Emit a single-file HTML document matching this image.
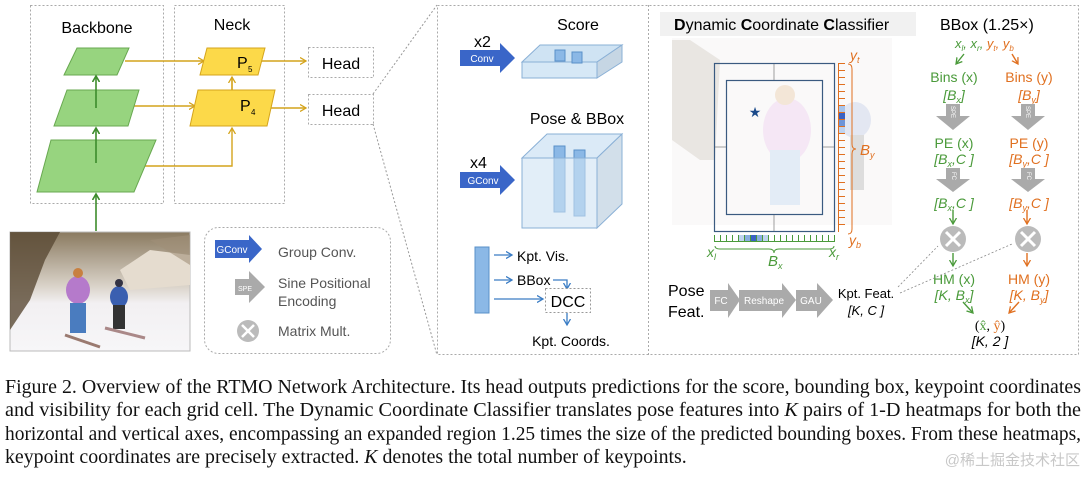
<!DOCTYPE html>
<html><head><meta charset="utf-8"><style>
html,body{margin:0;padding:0;background:#fff;width:1086px;height:479px;overflow:hidden}
svg{display:block}
.s{font-family:"Liberation Sans",sans-serif}
.cap{position:absolute;left:5px;top:376px;width:1076px;font-family:"Liberation Serif",serif;font-size:20px;line-height:23.3px;color:#111}
.cap div{white-space:nowrap;height:23.3px}
.cap span.t{display:inline-block;transform-origin:0 0}
.wm{position:absolute;right:6px;top:449px;font-family:"Liberation Sans","Noto Sans CJK SC",sans-serif;font-size:15px;color:#c8c8c8}
</style></head><body>
<svg id="g" width="1086" height="479" viewBox="0 0 1086 479" xmlns="http://www.w3.org/2000/svg" class="s">
<defs>
<marker id="ag" markerWidth="8" markerHeight="8" refX="6" refY="4" orient="auto" markerUnits="userSpaceOnUse"><path d="M0,0.5 L6,4 L0,7.5" fill="none" stroke="#4a9a3a" stroke-width="1.3"/></marker>
<marker id="ay" markerWidth="8" markerHeight="8" refX="6" refY="4" orient="auto" markerUnits="userSpaceOnUse"><path d="M0,0.5 L6,4 L0,7.5" fill="none" stroke="#d4a41c" stroke-width="1.3"/></marker>
<marker id="ab" markerWidth="8" markerHeight="8" refX="6" refY="4" orient="auto" markerUnits="userSpaceOnUse"><path d="M0,0.5 L6,4 L0,7.5" fill="none" stroke="#3a7cc4" stroke-width="1.3"/></marker>
<marker id="ao" markerWidth="8" markerHeight="8" refX="6" refY="4" orient="auto" markerUnits="userSpaceOnUse"><path d="M0,0.5 L6,4 L0,7.5" fill="none" stroke="#e07020" stroke-width="1.3"/></marker>
<marker id="agr" markerWidth="8" markerHeight="8" refX="6" refY="4" orient="auto" markerUnits="userSpaceOnUse"><path d="M0,0.5 L6,4 L0,7.5" fill="none" stroke="#3d8c2c" stroke-width="1.6"/></marker>
<linearGradient id="img" x1="0" y1="0" x2="0" y2="1"><stop offset="0" stop-color="#8a7a60"/><stop offset="0.45" stop-color="#d9d2c8"/><stop offset="0.6" stop-color="#f2f0f2"/><stop offset="1" stop-color="#f7f6f8"/></linearGradient>
</defs>
<rect x="30.5" y="5.5" width="133" height="198" fill="none" stroke="#aaa" stroke-dasharray="2,2"/>
<rect x="174.5" y="5.5" width="110" height="198" fill="none" stroke="#aaa" stroke-dasharray="2,2"/>
<text x="97" y="33" font-size="16" text-anchor="middle">Backbone</text>
<text x="232" y="30" font-size="16" text-anchor="middle">Neck</text>
<rect x="308.5" y="47.5" width="65" height="30" fill="none" stroke="#aaa" stroke-dasharray="2,2"/>
<rect x="308.5" y="94.5" width="65" height="30" fill="none" stroke="#aaa" stroke-dasharray="2,2"/>
<text x="341" y="69" font-size="16" text-anchor="middle">Head</text>
<text x="341" y="116" font-size="16" text-anchor="middle">Head</text>
<g stroke="#d4a41c" stroke-width="1.4" fill="none">
<line x1="125" y1="61" x2="204" y2="61" marker-end="url(#ay)"/>
<line x1="133" y1="106" x2="195" y2="106" marker-end="url(#ay)"/>
<polyline points="145,166 232,166 232,128" marker-end="url(#ay)"/>
<line x1="258" y1="61" x2="306" y2="61" marker-end="url(#ay)"/>
<line x1="266" y1="108" x2="306" y2="108" marker-end="url(#ay)"/>
<line x1="232" y1="78" x2="232" y2="104" marker-end="url(#ay)"/>
<line x1="232" y1="100" x2="232" y2="77" marker-end="url(#ay)"/>
</g>
<g fill="#97d47f" stroke="#68a850" stroke-width="1">
<polygon points="77,48 129,48 117,75 64,75"/>
<polygon points="67,90 139,90 128,126 54,126"/>
<polygon points="51,140 156,140 134,192 37,192"/>
</g>
<g fill="#fcd949" stroke="#d4a41c" stroke-width="1">
<polygon points="207,48 265,48 258,75 200,75"/>
<polygon points="198,90 275,90 267,126 190,126"/>
</g>
<text x="237" y="68" font-size="16">P</text><text x="248" y="72" font-size="8">5</text>
<text x="240" y="111" font-size="16">P</text><text x="251" y="115" font-size="8">4</text>
<g stroke="#3d8c2c" stroke-width="1.6" fill="none">
<line x1="96" y1="231" x2="96" y2="194" marker-end="url(#agr)"/>
<line x1="96" y1="163" x2="96" y2="128" marker-end="url(#agr)"/>
<line x1="96" y1="108" x2="96" y2="76" marker-end="url(#agr)"/>
</g>
<rect x="10" y="232" width="180" height="119" fill="url(#img)" stroke="#bbb"/>
<path d="M10,232 L10,330 L30,300 L45,260 L60,232 Z" fill="#5a4a34" opacity="0.8"/>
<path d="M120,270 L150,250 L190,255 L190,285 L130,290 Z" fill="#e5dccf"/>
<path d="M150,240 L190,235 L190,265 Z" fill="#a09078" opacity="0.6"/>
<ellipse cx="78" cy="290" rx="12" ry="14" fill="#b57acb"/>
<rect x="70" y="303" width="16" height="30" fill="#4a7cbf"/>
<circle cx="78" cy="273" r="5" fill="#c88040"/>
<line x1="65" y1="335" x2="100" y2="347" stroke="#9a7a70" stroke-width="3"/>
<ellipse cx="119" cy="297" rx="9" ry="11" fill="#3a5fb0"/>
<rect x="113" y="305" width="12" height="24" fill="#333"/>
<circle cx="119" cy="283" r="4" fill="#334"/>
<line x1="105" y1="328" x2="145" y2="338" stroke="#aa8888" stroke-width="3"/>
<rect x="204.5" y="227.5" width="186" height="126" rx="14" fill="none" stroke="#aaa" stroke-dasharray="2,2"/>
<polygon points="215,240 249,240 249,235 262,249 249,263 249,258 215,258" fill="#3a66c8"/>
<text x="232" y="253" font-size="10" fill="#fff" text-anchor="middle">GConv</text>
<text x="278" y="257" font-size="14" fill="#555">Group Conv.</text>
<polygon points="235,279 249,279 249,271 265,287 249,303 249,295 235,295" fill="#aaa"/>
<text x="245" y="291" font-size="7" fill="#fff" text-anchor="middle">SPE</text>
<text x="278" y="288" font-size="14" fill="#555">Sine Positional</text>
<text x="278" y="306" font-size="14" fill="#555">Encoding</text>
<circle cx="248" cy="331" r="11" fill="#bbb"/>
<path d="M242,325 L254,337 M254,325 L242,337" stroke="#fff" stroke-width="2.5"/>
<text x="278" y="336" font-size="14" fill="#555">Matrix Mult.</text>
<line x1="373" y1="94" x2="437" y2="5" stroke="#999" stroke-dasharray="2,2"/>
<line x1="373" y1="124" x2="437" y2="355" stroke="#999" stroke-dasharray="2,2"/>
<rect x="437.5" y="5.5" width="641" height="349" fill="none" stroke="#aaa" stroke-dasharray="2,2"/>
<line x1="648.5" y1="5" x2="648.5" y2="355" stroke="#aaa" stroke-dasharray="2,2"/>
<text x="578" y="30" font-size="16" text-anchor="middle">Score</text>
<text x="474" y="47" font-size="16">x2</text>
<polygon points="460,50 500,50 500,43 515,58 500,73 500,66 460,66" fill="#3a66c8"/>
<text x="482" y="62" font-size="10" fill="#fff" text-anchor="middle">Conv</text>
<polygon points="522,62 540,45 622,45 597,62" fill="#cfe3f3" stroke="#8ab0d6"/>
<rect x="522" y="62" width="75" height="16" fill="#d6e8f6" stroke="#8ab0d6"/>
<polygon points="597,62 622,45 622,62 597,78" fill="#c6d6e4" stroke="#8ab0d6"/>
<rect x="555" y="50" width="10" height="11" fill="#8bb8e6" stroke="#5a90c8"/>
<rect x="572" y="52" width="10" height="11" fill="#8bb8e6" stroke="#5a90c8"/>
<text x="577" y="124" font-size="16" text-anchor="middle">Pose &amp; BBox</text>
<text x="470" y="168" font-size="16">x4</text>
<polygon points="460,172 500,172 500,165 515,180 500,195 500,188 460,188" fill="#3a66c8"/>
<text x="483" y="184" font-size="10" fill="#fff" text-anchor="middle">GConv</text>
<polygon points="522,158 547,134 622,134 597,158" fill="#dbeaf7" stroke="#8ab0d6"/>
<polygon points="597,158 622,134 622,204 597,228" fill="#d2dfea" stroke="#8ab0d6"/>
<rect x="554" y="146" width="11" height="66" fill="#8bb8e6" stroke="#5a90c8"/>
<rect x="574" y="150" width="11" height="66" fill="#8bb8e6" stroke="#5a90c8"/>
<rect x="522" y="158" width="75" height="70" fill="#cfe3f3" fill-opacity="0.6" stroke="#8ab0d6"/>
<rect x="475" y="247" width="14" height="66" fill="#8bb8e6" stroke="#5a90c8"/>
<g stroke="#3a7cc4" stroke-width="1.3" fill="none">
<line x1="494" y1="255" x2="512" y2="255" marker-end="url(#ab)"/>
<line x1="494" y1="280" x2="512" y2="280" marker-end="url(#ab)"/>
<polyline points="553,280 567,280 567,289" marker-end="url(#ab)"/>
<line x1="494" y1="299" x2="543" y2="299" marker-end="url(#ab)"/>
<line x1="567" y1="313" x2="567" y2="325" marker-end="url(#ab)"/>
</g>
<text x="517" y="261" font-size="14">Kpt. Vis.</text>
<text x="517" y="285" font-size="14">BBox</text>
<rect x="545.5" y="288.5" width="45" height="24" fill="#fff" stroke="#999" stroke-dasharray="2,2"/>
<text x="568" y="307" font-size="16" text-anchor="middle">DCC</text>
<text x="571" y="346" font-size="14" text-anchor="middle">Kpt. Coords.</text>
<rect x="660" y="12" width="256" height="24" fill="#f1f1f1"/>
<text x="674" y="30" font-size="16"><tspan font-weight="bold">D</tspan>ynamic <tspan font-weight="bold">C</tspan>oordinate <tspan font-weight="bold">C</tspan>lassifier</text>
<text x="940" y="30" font-size="16">BBox (1.25×)</text>
<g opacity="0.45">
<rect x="672" y="38" width="220" height="187" fill="#f4f2f2"/>
<path d="M672,40 L690,40 L720,60 L715,160 L700,160 L672,140 Z" fill="#b8ab9c" opacity="0.6"/>
<ellipse cx="787" cy="130" rx="24" ry="32" fill="#e9cce9"/>
<rect x="770" y="150" width="30" height="55" fill="#c3d6ec"/>
<circle cx="785" cy="95" r="10" fill="#e6c8a8"/>
<ellipse cx="855" cy="120" rx="16" ry="18" fill="#c2cbe4"/>
<rect x="850" y="135" width="14" height="55" fill="#b4b4b4"/>
</g>
<rect x="714.5" y="63.5" width="120" height="168" fill="none" stroke="#3a5a80" stroke-width="1.2"/>
<rect x="726.5" y="80.5" width="96" height="134" fill="none" stroke="#3a5a80" stroke-width="1.2"/>
<g stroke="#777" stroke-width="0.7"><line x1="774" y1="64" x2="774" y2="80"/><line x1="774" y1="215" x2="774" y2="231"/><line x1="715" y1="147" x2="726" y2="147"/><line x1="823" y1="147" x2="834" y2="147"/></g>
<text x="755" y="117" font-size="14" fill="#1a4a8a" text-anchor="middle">★</text>
<g id="vr"></g><g id="hr"></g>
<path d="M848,64 q4,0 4,5 l0,75 q0,5 4,5 q-4,0 -4,5 l0,75 q0,5 -4,5" fill="none" stroke="#e07020" stroke-width="1"/>
<path d="M715,246 q0,3 5,3 l49,0 q5,0 5,4 q0,-4 5,-4 l50,0 q5,0 5,-3" fill="none" stroke="#4a9a3a" stroke-width="1"/>
<g font-style="italic" font-size="14">
<text x="850" y="60" fill="#e07020">y<tspan font-size="9" dy="3">t</tspan></text>
<text x="849" y="245" fill="#e07020">y<tspan font-size="9" dy="3">b</tspan></text>
<text x="860" y="155" fill="#e07020" font-size="15">B<tspan font-size="9" dy="3">y</tspan></text>
<text x="707" y="257" fill="#4a9a3a">x<tspan font-size="9" dy="3">l</tspan></text>
<text x="829" y="257" fill="#4a9a3a">x<tspan font-size="9" dy="3">r</tspan></text>
<text x="768" y="266" fill="#4a9a3a" font-size="15">B<tspan font-size="9" dy="3">x</tspan></text>
</g>
<text x="955" y="48" font-size="13" font-style="italic" fill="#4a9a3a">x<tspan font-size="8" dy="3">l</tspan><tspan dy="-3">, x</tspan><tspan font-size="8" dy="3">r</tspan><tspan dy="-3">, </tspan><tspan fill="#e07020">y</tspan><tspan font-size="8" dy="3" fill="#e07020">t</tspan><tspan dy="-3" fill="#e07020">, y</tspan><tspan font-size="8" dy="3" fill="#e07020">b</tspan></text>
<g stroke-width="1.4" fill="none">
<line x1="964" y1="54" x2="956" y2="64" stroke="#4a9a3a" marker-end="url(#ag)"/>
<line x1="1012" y1="54" x2="1018" y2="64" stroke="#e07020" marker-end="url(#ao)"/>
<line x1="953" y1="210" x2="953" y2="224" stroke="#4a9a3a" marker-end="url(#ag)"/>
<line x1="1027" y1="210" x2="1027" y2="224" stroke="#e07020" marker-end="url(#ao)"/>
<line x1="953" y1="253" x2="953" y2="266" stroke="#4a9a3a" marker-end="url(#ag)"/>
<line x1="1027" y1="253" x2="1027" y2="266" stroke="#e07020" marker-end="url(#ao)"/>
<line x1="963" y1="302" x2="973" y2="313" stroke="#4a9a3a" marker-end="url(#ag)"/>
<line x1="1019" y1="302" x2="1009" y2="313" stroke="#e07020" marker-end="url(#ao)"/>
</g>
<g font-size="14" text-anchor="middle">
<g fill="#4a9a3a">
<text x="954" y="82">Bins (x)</text><text x="954" y="100" font-style="italic">[B<tspan font-size="9" dy="3">x</tspan><tspan dy="-3">]</tspan></text>
<text x="954" y="148">PE (x)</text><text x="954" y="164" font-style="italic">[B<tspan font-size="9" dy="3">x</tspan><tspan dy="-3">,C ]</tspan></text>
<text x="954" y="208" font-style="italic">[B<tspan font-size="9" dy="3">x</tspan><tspan dy="-3">,C ]</tspan></text>
<text x="954" y="284">HM (x)</text><text x="954" y="300" font-style="italic">[K, B<tspan font-size="9" dy="3">x</tspan><tspan dy="-3">]</tspan></text>
</g>
<g fill="#e07020">
<text x="1029" y="82">Bins (y)</text><text x="1029" y="100" font-style="italic">[B<tspan font-size="9" dy="3">y</tspan><tspan dy="-3">]</tspan></text>
<text x="1029" y="148">PE (y)</text><text x="1029" y="164" font-style="italic">[B<tspan font-size="9" dy="3">y</tspan><tspan dy="-3">,C ]</tspan></text>
<text x="1029" y="208" font-style="italic">[B<tspan font-size="9" dy="3">y</tspan><tspan dy="-3">,C ]</tspan></text>
<text x="1029" y="284">HM (y)</text><text x="1029" y="300" font-style="italic">[K, B<tspan font-size="9" dy="3">y</tspan><tspan dy="-3">]</tspan></text>
</g>
<text x="990" y="330" font-family="Liberation Serif,serif">(<tspan fill="#4a9a3a">x̂</tspan>, <tspan fill="#e07020">ŷ</tspan>)</text>
<text x="990" y="346" font-style="italic">[K, 2 ]</text>
</g>
<g fill="#aaa">
<polygon points="946,104 960,104 960,116 970,116 953,130 936,116 946,116"/>
<polygon points="1021,104 1035,104 1035,116 1045,116 1028,130 1011,116 1021,116"/>
<polygon points="946,168 960,168 960,179 970,179 953,192 936,179 946,179"/>
<polygon points="1021,168 1035,168 1035,179 1045,179 1028,192 1011,179 1021,179"/>
</g>
<g font-size="6" fill="#fff" text-anchor="middle">
<text x="953" y="114" transform="rotate(90 953 112)">SPE</text>
<text x="1028" y="114" transform="rotate(90 1028 112)">SPE</text>
<text x="953" y="177" transform="rotate(90 953 176)">FC</text>
<text x="1028" y="177" transform="rotate(90 1028 176)">FC</text>
</g>
<g>
<circle cx="953" cy="239" r="13" fill="#bbb"/><path d="M946,232 L960,246 M960,232 L946,246" stroke="#fff" stroke-width="3"/>
<circle cx="1028" cy="239" r="13" fill="#bbb"/><path d="M1021,232 L1035,246 M1035,232 L1021,246" stroke="#fff" stroke-width="3"/>
</g>
<text x="668" y="296" font-size="16">Pose</text>
<text x="668" y="317" font-size="16">Feat.</text>
<g fill="#aaa">
<polygon points="710,290 728,290 728,283 740,300 728,318 728,311 710,311"/>
<polygon points="739,290 782,290 782,283 796,300 782,318 782,311 739,311"/>
<polygon points="796,290 817,290 817,283 833,300 817,318 817,311 796,311"/>
</g>
<g font-size="10" fill="#fff" text-anchor="middle"><text x="721" y="304">FC</text><text x="764" y="304">Reshape</text><text x="811" y="304">GAU</text></g>
<text x="866" y="298" font-size="13" text-anchor="middle">Kpt. Feat.</text>
<text x="866" y="315" font-size="13" text-anchor="middle" font-style="italic">[K, C ]</text>
<g stroke="#888" stroke-width="0.8" stroke-dasharray="2,2" fill="none">
<line x1="898" y1="287" x2="938" y2="246"/>
<line x1="900" y1="293" x2="1012" y2="244"/>
</g>
</svg>
<div class="cap">
<div><span class="t">Figure 2. Overview of the RTMO Network Architecture. Its head outputs predictions for the score, bounding box, keypoint coordinates</span></div>
<div><span class="t">and visibility for each grid cell. The Dynamic Coordinate Classifier translates pose features into <i>K</i> pairs of 1-D heatmaps for both the</span></div>
<div><span class="t">horizontal and vertical axes, encompassing an expanded region 1.25 times the size of the predicted bounding boxes. From these heatmaps,</span></div>
<div><span class="t">keypoint coordinates are precisely extracted. <i>K</i> denotes the total number of keypoints.</span></div>
</div>
<div class="wm">@稀土掘金技术社区</div>
<script>
var ns="http://www.w3.org/2000/svg";
function r(p,x,y,w,h,f){var e=document.createElementNS(ns,"rect");e.setAttribute("x",x);e.setAttribute("y",y);e.setAttribute("width",w);e.setAttribute("height",h);e.setAttribute("fill",f);p.appendChild(e);}
var vr=document.getElementById("vr"),hr=document.getElementById("hr");
var vc={6:"#a8c4ec",7:"#3a62c4",8:"#6f95d8",9:"#c0d4f0"};
for(var i=0;i<24;i++){r(vr,838,63+i*7,7,1,"#e07020");if(vc[i])r(vr,838,64+i*7,7,6,vc[i]);}
r(vr,838,63,1,169,"#e07020");
var hc={4:"#c0d4f0",5:"#8aaee0",6:"#3a62c4",7:"#8aaee0",8:"#c0d4f0"};
for(var j=0;j<=20;j++){r(hr,714+j*6,235,1,7,"#4a9a3a");if(hc[j])r(hr,715+j*6,235,5,7,hc[j]);}
r(hr,714,241,121,1,"#4a9a3a");
var sp=document.querySelectorAll('.cap span.t'),f=[],sum=0;
for(var k=0;k<3;k++){f[k]=1076/sp[k].getBoundingClientRect().width;sp[k].style.transform='scaleX('+f[k]+')';sum+=f[k];}
sp[3].style.transform='scaleX('+(sum/3)+')';
</script>
</body></html>
